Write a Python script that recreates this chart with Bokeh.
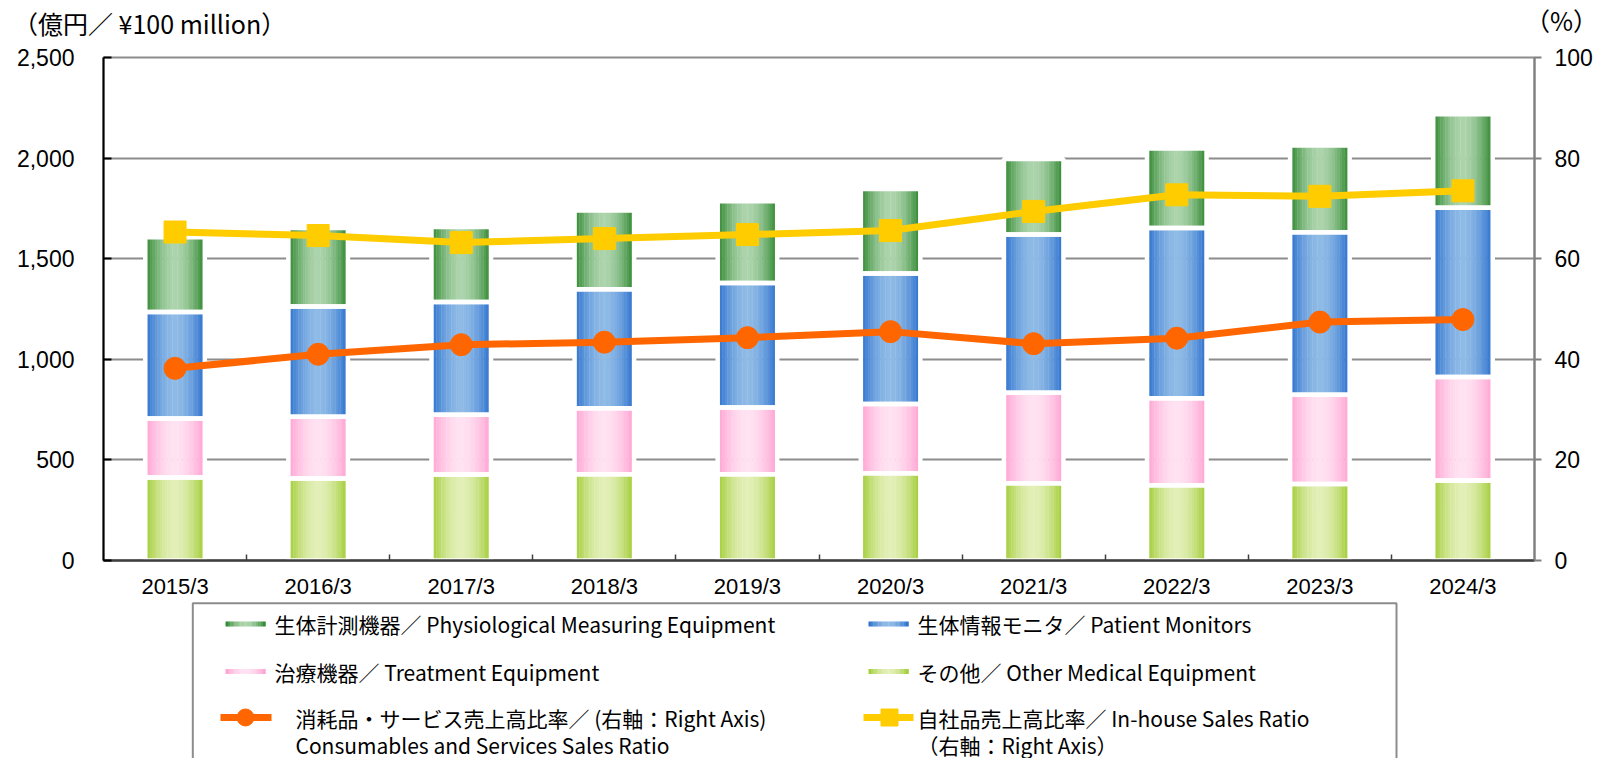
import numpy as np
from bokeh.plotting import figure
from bokeh.models import (Range1d, LinearAxis, FixedTicker, NumeralTickFormatter,
                          ColumnDataSource, Div)
from bokeh.layouts import column
from bokeh.embed import file_html
from bokeh.resources import INLINE
from bokeh.core.properties import value

# ---------------- data ----------------
years = ["2015/3", "2016/3", "2017/3", "2018/3", "2019/3",
         "2020/3", "2021/3", "2022/3", "2023/3", "2024/3"]
other_medical = [412, 408, 427, 429, 429, 434, 384, 374, 380, 397]
treatment = [294, 307, 298, 328, 332, 344, 450, 432, 444, 515]
patient_monitors = [529, 547, 560, 591, 618, 649, 786, 847, 807, 841]
physiological = [371, 390, 373, 391, 406, 420, 375, 395, 432, 465]
consumables_ratio = [38.2, 41.0, 42.9, 43.4, 44.3, 45.5, 43.1, 44.2, 47.4, 47.9]
inhouse_ratio = [65.3, 64.6, 63.2, 64.0, 64.8, 65.6, 69.4, 72.7, 72.4, 73.5]
left_ticks = [0, 500, 1000, 1500, 2000, 2500]
right_ticks = [0, 20, 40, 60, 80, 100]

legend_texts = [
    "生体計測機器／ Physiological Measuring Equipment",
    "生体情報モニタ／ Patient Monitors",
    "治療機器／ Treatment Equipment",
    "その他／ Other Medical Equipment",
]
cons_label = ["消耗品・サービス売上高比率／ (右軸：Right Axis)",
              "Consumables and Services Sales Ratio"]
inhouse_label = ["自社品売上高比率／ In-house Sales Ratio", "（右軸：Right Axis）"]
left_unit = "（億円／ ¥100 million）"
right_unit = "（%）"

# gradient colours (edge, centre)
grad = {
    "other": ((156, 202, 44), (226, 239, 182)),
    "treat": ((255, 158, 208), (255, 226, 242)),
    "mon": ((38, 108, 205), (142, 186, 230)),
    "phys": ((40, 130, 40), (172, 212, 172)),
}

JP = "Noto Sans CJK JP"
LAT = "Liberation Sans"


def shade(edge, center, pos):
    d = abs(pos - 0.5) * 2
    f = d ** 1.8
    c = [int(round(center[i] + (edge[i] - center[i]) * f)) for i in range(3)]
    return "#%02x%02x%02x" % tuple(c)


# ---------------- unit labels (top strip) ----------------
TOP_H = 40
top_div = Div(
    width=1598, height=TOP_H, margin=0,
    text=(
        '<div style="position:relative;width:1598px;height:%dpx;overflow:hidden;'
        "font-family:'Noto Sans CJK JP';font-size:25px;color:black;line-height:30px\">"
        '<span style="position:absolute;left:13px;top:8px;white-space:nowrap">%s</span>'
        '<span style="position:absolute;right:0px;top:5px;white-space:nowrap">%s</span>'
        '</div>' % (TOP_H, left_unit, right_unit)
    ),
)

# ---------------- main chart ----------------
FRAME_L, FRAME_R = 103, 1534
p = figure(width=1598, height=601 - TOP_H, x_range=Range1d(-0.5, 9.5),
           y_range=Range1d(0, 2500),
           output_backend="svg", toolbar_location=None,
           min_border_left=FRAME_L, min_border_right=1598 - FRAME_R,
           min_border_top=57 - TOP_H, min_border_bottom=601 - 562)
p.extra_y_ranges = {"pct": Range1d(0, 100)}
p.background_fill_color = "white"
p.border_fill_color = "white"
p.outline_line_color = "#8c8c8c"
p.outline_line_width = 2
p.xgrid.visible = False
p.ygrid.ticker = FixedTicker(ticks=left_ticks)
p.ygrid.grid_line_color = "#8c8c8c"
p.ygrid.grid_line_width = 2

idx = np.arange(len(years), dtype=float)
W = 0.416
N = 24
stack_order = [("other", other_medical), ("treat", treatment),
               ("mon", patient_monitors), ("phys", physiological)]
bottom = np.zeros(len(years))
segs = []
for key, vals in stack_order:
    vals = np.array(vals, dtype=float)
    top = bottom + vals
    edge, center = grad[key]
    xs, bs, ts, cs = [], [], [], []
    for k in range(N):
        pos = (k + 0.5) / N
        off = -W / 2 + pos * W
        col = shade(edge, center, pos)
        xs += list(idx + off)
        bs += list(bottom)
        ts += list(top)
        cs += [col] * len(years)
    src = ColumnDataSource(dict(x=xs, b=bs, t=ts, c=cs))
    p.vbar(x="x", width=W / N * 1.15, bottom="b", top="t", fill_color="c",
           line_color=None, source=src)
    segs.append((bottom.copy(), top.copy()))
    bottom = top

for b, t in segs:
    p.vbar(x=idx, width=W, bottom=b, top=t, fill_color=None,
           line_color="white", line_width=4.5)

p.line(idx, consumables_ratio, y_range_name="pct", line_color="#ff6600", line_width=7)
p.scatter(idx, consumables_ratio, y_range_name="pct", marker="circle", size=22,
          fill_color="#ff6600", line_color="#ff6600")
p.line(idx, inhouse_ratio, y_range_name="pct", line_color="#ffcc00", line_width=7)
p.scatter(idx, inhouse_ratio, y_range_name="pct", marker="square", size=22,
          fill_color="#ffcc00", line_color="#ffcc00")

# x axis
xa = p.xaxis[0]
xa.ticker = FixedTicker(ticks=list(idx), minor_ticks=list(idx[:-1] + 0.5))
xa.major_label_overrides = {int(i): y for i, y in zip(idx, years)}
xa.major_tick_in = 0
xa.major_tick_out = 0
xa.minor_tick_in = 6
xa.minor_tick_out = 0
xa.minor_tick_line_color = "#404040"
xa.minor_tick_line_width = 1.5
xa.axis_line_color = "#404040"
xa.axis_line_width = 2.5
xa.major_label_text_font = LAT
xa.major_label_text_font_size = "22px"
xa.major_label_text_color = "black"
xa.major_label_standoff = 13

# left axis
ya = p.yaxis[0]
ya.ticker = FixedTicker(ticks=left_ticks)
ya.formatter = NumeralTickFormatter(format="0,0")
ya.major_tick_in = 8
ya.major_tick_out = 0
ya.minor_tick_in = 0
ya.minor_tick_out = 0
ya.major_tick_line_color = "black"
ya.major_tick_line_width = 2
ya.axis_line_color = "black"
ya.axis_line_width = 2
ya.major_label_text_font = LAT
ya.major_label_text_font_size = "23px"
ya.major_label_text_color = "black"
ya.major_label_standoff = 29

# right axis
ra = LinearAxis(y_range_name="pct", ticker=FixedTicker(ticks=right_ticks))
ra.major_tick_in = 0
ra.major_tick_out = 7
ra.minor_tick_in = 0
ra.minor_tick_out = 0
ra.major_tick_line_color = "#808080"
ra.major_tick_line_width = 2
ra.axis_line_color = "#808080"
ra.axis_line_width = 2
ra.major_label_text_font = LAT
ra.major_label_text_font_size = "23px"
ra.major_label_text_color = "black"
ra.major_label_standoff = 13
p.add_layout(ra, "right")

# ---------------- legend ----------------
LH = 758 - 601
q = figure(width=1598, height=LH, x_range=Range1d(FRAME_L, FRAME_R), y_range=Range1d(LH, 0),
           output_backend="svg", toolbar_location=None, min_border=0,
           min_border_left=FRAME_L, min_border_right=1598 - FRAME_R,
           min_border_top=0, min_border_bottom=0,
           x_axis_location=None, y_axis_location=None)
q.grid.visible = False
q.outline_line_color = None
q.background_fill_color = "white"
q.border_fill_color = "white"

q.line([192.3, 192.3, 1396, 1396], [LH + 10, 1.7, 1.7, LH + 10],
       line_color="#8c8c8c", line_width=2)

r1, r2, r3, r3b = 22.5, 70, 116, 143
c1_sw, c2_sw = (225, 265), (868, 908)
c1_tx, c2_tx = 274, 917
sw_items = [("phys", c1_sw, r1), ("mon", c2_sw, r1), ("treat", c1_sw, r2), ("other", c2_sw, r2)]
NS = 16
for key, (x0, x1), yy in sw_items:
    edge, center = grad[key]
    step = (x1 - x0) / NS
    lefts = [x0 + k * step for k in range(NS)]
    cols = [shade(edge, center, (k + 0.5) / NS) for k in range(NS)]
    q.quad(left=lefts, right=[l + step * 1.1 for l in lefts], top=[yy - 2.5] * NS,
           bottom=[yy + 2.5] * NS, fill_color=cols, line_color=None)

q.text(x=[c1_tx, c2_tx, c1_tx, c2_tx], y=[r1, r1, r2, r2], text=legend_texts,
       text_font=value(JP), text_font_size="21px", text_baseline="middle",
       text_color="black")

# consumables marker
q.line([220, 271], [r3, r3], line_color="#ff6600", line_width=7)
q.scatter([245], [r3], marker="circle", size=17, fill_color="#ff6600", line_color="#ff6600")
q.text(x=[295, 295], y=[r3, r3b], text=cons_label, text_font=value(JP),
       text_font_size="21px", text_baseline="middle", text_color="black")

# in-house marker
q.line([863, 913], [r3, r3], line_color="#ffcc00", line_width=7)
q.scatter([889], [r3], marker="square", size=17, fill_color="#ffcc00", line_color="#ffcc00")
q.text(x=[c2_tx, c2_tx], y=[r3, r3b], text=inhouse_label, text_font=value(JP),
       text_font_size="21px", text_baseline="middle", text_color="black")

layout = column(top_div, p, q, spacing=0)
open("out.html", "w").write(file_html(layout, INLINE))
